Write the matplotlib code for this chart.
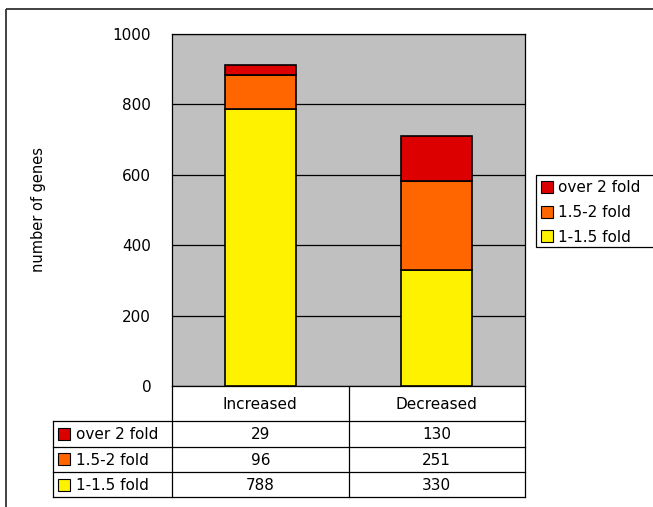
import matplotlib.pyplot as plt
from matplotlib.patches import Rectangle

plt.rcParams['font.family'] = ['DejaVu Sans']

categories = ['Increased', 'Decreased']
series_names = ['1-1.5 fold', '1.5-2 fold', 'over 2 fold']
series_values = [
    [788, 330],   # 1-1.5 fold
    [96, 251],    # 1.5-2 fold
    [29, 130],    # over 2 fold
]
series_colors = ['#FFF200', '#FF6600', '#DD0000']
yticks = [0, 200, 400, 600, 800, 1000]

W, H = 653, 507
fig = plt.figure(figsize=(W / 100, H / 100), dpi=100)

# pixel-space overlay for frame, table and legend
ov = fig.add_axes([0, 0, 1, 1], zorder=0)
ov.set_xlim(0, W)
ov.set_ylim(H, 0)
ov.axis('off')

# chart area
px0, px1, py0, py1 = 172, 525, 34, 386
ax = fig.add_axes([px0 / W, 1 - py1 / H, (px1 - px0) / W, (py1 - py0) / H], zorder=2)
ax.set_facecolor('#C0C0C0')
ax.set_xlim(-0.5, 1.5)
ax.set_ylim(0, 1000)
ax.set_yticks(yticks)
ax.set_yticklabels([str(t) for t in yticks], fontsize=11)
ax.tick_params(axis='y', length=0, pad=15)
ax.set_xticks([])
ax.yaxis.grid(True, color='black', linewidth=0.9)
ax.set_axisbelow(True)
for s in ax.spines.values():
    s.set_color('black')
    s.set_linewidth(0.9)
ax.set_ylabel('number of genes', fontsize=10.5, labelpad=48)

xs = range(len(categories))
bottom = [0] * len(categories)
for vals, color, name in zip(series_values, series_colors, series_names):
    ax.bar(xs, vals, width=0.4, bottom=bottom, color=color, edgecolor='black',
           linewidth=1.2, label=name, zorder=3)
    bottom = [b + v for b, v in zip(bottom, vals)]

# outer frame
ov.add_patch(Rectangle((6, 9), 700, 600, fill=False, edgecolor='#333333',
                       linewidth=1.3, clip_on=False))

# data table below the chart
col_edges = [172, 348.5, 525]
row_edges = [421, 446.5, 472, 497]
ov.plot([px0, px0], [py1, row_edges[-1]], color='black', lw=0.9)
ov.plot([col_edges[1], col_edges[1]], [py1, row_edges[-1]], color='black', lw=0.9)
ov.plot([px1, px1], [py1, row_edges[-1]], color='black', lw=0.9)
ov.plot([53, 53], [row_edges[0], row_edges[-1]], color='black', lw=0.9)
for y in row_edges:
    ov.plot([53, px1], [y, y], color='black', lw=0.9)

for i, cat in enumerate(categories):
    cx = (col_edges[i] + col_edges[i + 1]) / 2
    ov.text(cx, (py1 + row_edges[0]) / 2 + 1, cat, ha='center', va='center', fontsize=11)

table_order = [2, 1, 0]
for r, k in enumerate(table_order):
    cy = (row_edges[r] + row_edges[r + 1]) / 2
    ov.add_patch(Rectangle((58, cy - 6), 12, 12, facecolor=series_colors[k],
                           edgecolor='black', linewidth=0.8))
    ov.text(76, cy + 1, series_names[k], ha='left', va='center', fontsize=11)
    for i in range(len(categories)):
        cx = (col_edges[i] + col_edges[i + 1]) / 2
        ov.text(cx, cy + 1, str(series_values[k][i]), ha='center', va='center', fontsize=11)

# legend box on the right
ov.add_patch(Rectangle((535.5, 174.5), 120, 72.5, fill=False, edgecolor='black',
                       linewidth=0.9, clip_on=False))
for r, k in enumerate(table_order):
    cy = 187 + r * 24.5
    ov.add_patch(Rectangle((541, cy - 6), 12, 12, facecolor=series_colors[k],
                           edgecolor='black', linewidth=0.8))
    ov.text(558, cy + 1, series_names[k], ha='left', va='center', fontsize=11)

fig.savefig('out.png', dpi=100)
